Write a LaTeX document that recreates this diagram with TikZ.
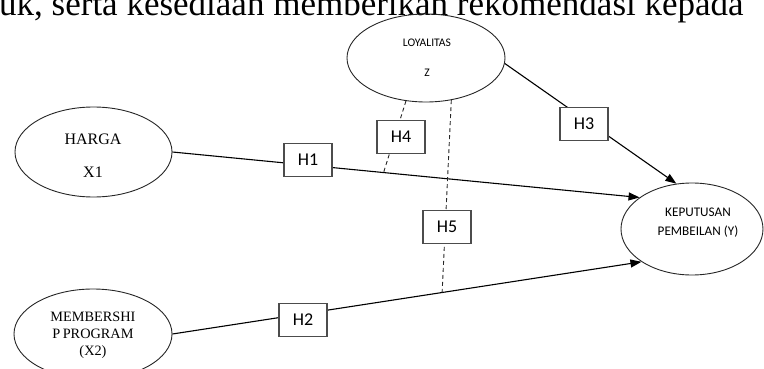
\documentclass[tikz,border=0pt]{standalone}
\usepackage{fontspec}
\setmainfont{Liberation Serif}
\newfontfamily\carlito{Carlito}
\usetikzlibrary{arrows.meta,shapes.geometric}
\begin{document}
\begin{tikzpicture}[x=1pt,y=-1pt,
  ell/.style={draw=black!85, line width=0.9pt, ellipse, inner sep=0pt},
  lbl/.style={align=center, inner sep=0pt},
  hbox/.style={draw=black!70, line width=1.1pt, fill=white, minimum width=48pt, minimum height=33pt, inner sep=0pt, font=\carlito\fontsize{18}{20}\selectfont},
  conn/.style={line width=1.1pt, draw=black},
  arr/.style={conn, -{Triangle[length=11pt,width=8pt]}},
  dsh/.style={line width=0.9pt, draw=black!85, dash pattern=on 4pt off 3pt}]
\useasboundingbox (0,0) rectangle (764,369);
\clip (0,0) rectangle (764,369);
% cropped running text at the top
\node[anchor=base west, inner sep=0pt, font=\fontsize{35}{40}\selectfont] (toptext) at (-1,15.7) {uk, serta kesediaan memberikan rekomendasi kepada};
% ellipses
\node[ell, minimum width=158pt, minimum height=88pt] (loy) at (426,58) {};
\node[ell, minimum width=157pt, minimum height=90pt] (harga) at (93.5,152) {};
\node[ell, minimum width=158pt, minimum height=90pt] (memb) at (93,334) {};
\node[ell, minimum width=142pt, minimum height=92pt] (kep) at (692,229) {};
% ellipse texts
\node[lbl, font=\carlito\fontsize{11.6}{30}\selectfont] (loyT) at (427,58) {LOYALITAS\\Z};
\node[lbl, font=\fontsize{16}{33}\selectfont] (hargaT) at (93,155.5) {HARGA\\X1};
\node[lbl, font=\fontsize{14.3}{17}\selectfont] (membT) at (93,335) {MEMBERSHI\\P\,PROGRAM\\(X2)};
\node[lbl, font=\carlito\fontsize{13.2}{19}\selectfont] (kepT) at (698,222.5) {KEPUTUSAN\\PEMBEILAN (Y)};
% connectors
\draw[arr] (harga.east) -- coordinate[pos=0.452] (p4) (kep.149);
\draw[arr] (memb.east) -- coordinate[pos=0.575] (p5) (kep.213);
\draw[arr] (loy.-4) -- (kep.109);
\draw[dsh] (loy.-115) -- (p4);
\draw[dsh] (loy.-59) -- (p5);
% hypothesis boxes
\node[hbox] (h1) at (308,160) {H1};
\node[hbox] (h2) at (303,320) {H2};
\node[hbox] (h3) at (584,124) {H3};
\node[hbox] (h4) at (401,137) {H4};
\node[hbox] (h5) at (447,227) {H5};
\end{tikzpicture}
\end{document}
